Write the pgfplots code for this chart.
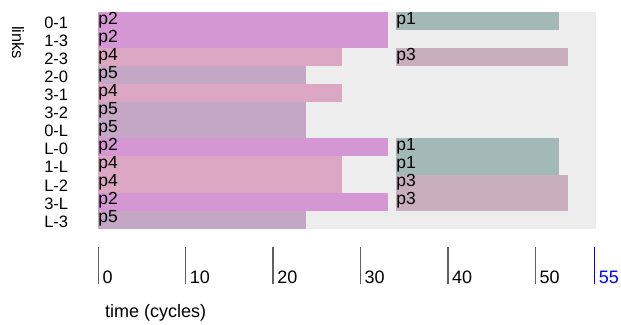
\documentclass[border=0pt]{standalone}
\usepackage{pgfplots}
\pgfplotsset{compat=1.18}
\usepackage{fontspec}
\setmainfont{Liberation Sans}
\definecolor{cpA}{RGB}{163,185,183}
\definecolor{cpB}{RGB}{213,151,211}
\definecolor{cpC}{RGB}{201,175,189}
\definecolor{cpD}{RGB}{219,167,195}
\definecolor{cpE}{RGB}{195,167,197}
\definecolor{bgc}{RGB}{237,237,237}
\definecolor{tickc}{RGB}{95,95,95}
\begin{document}
\fontsize{16.5}{19}\selectfont
\begin{tikzpicture}
\useasboundingbox (0,0) rectangle (621pt,324pt);
\begin{axis}[
  at={(98.3pt,95.3pt)}, anchor=south west,
  scale only axis, width=498.2pt, height=216.7pt,
  xmin=0, xmax=57, ymin=-11.5, ymax=0.5,
  axis line style={draw=none},
  axis background/.style={fill=bgc},
  xtick=\empty,
  ytick={-11,-10,...,0},
  yticklabels={L-3,3-L,L-2,1-L,L-0,0-L,3-2,3-1,2-0,2-3,1-3,0-1},
  major tick length=0pt,
  yticklabel style={anchor=base east, inner sep=0pt, xshift=-30pt, yshift=-7.5pt},
  ylabel={links},
  ylabel style={at={(axis description cs:-0.161,0.859)}, anchor=center, rotate=180},
  clip=false,
]
% p2 bars (0 to 33.17)
\addplot[fill=cpB, draw=none] coordinates {(0,0.5) (33.17,0.5) (33.17,-1.5) (0,-1.5)};
\addplot[fill=cpB, draw=none] coordinates {(0,-6.5) (33.17,-6.5) (33.17,-7.5) (0,-7.5)};
\addplot[fill=cpB, draw=none] coordinates {(0,-9.5) (33.17,-9.5) (33.17,-10.5) (0,-10.5)};
% p4 bars (0 to 27.9)
\addplot[fill=cpD, draw=none] coordinates {(0,-1.5) (27.9,-1.5) (27.9,-2.5) (0,-2.5)};
\addplot[fill=cpD, draw=none] coordinates {(0,-3.5) (27.9,-3.5) (27.9,-4.5) (0,-4.5)};
\addplot[fill=cpD, draw=none] coordinates {(0,-7.5) (27.9,-7.5) (27.9,-9.5) (0,-9.5)};
% p5 bars (0 to 23.78)
\addplot[fill=cpE, draw=none] coordinates {(0,-2.5) (23.78,-2.5) (23.78,-3.5) (0,-3.5)};
\addplot[fill=cpE, draw=none] coordinates {(0,-4.5) (23.78,-4.5) (23.78,-6.5) (0,-6.5)};
\addplot[fill=cpE, draw=none] coordinates {(0,-10.5) (23.78,-10.5) (23.78,-11.5) (0,-11.5)};
% p1 bars (34.08 to 52.74)
\addplot[fill=cpA, draw=none] coordinates {(34.08,0.5) (52.74,0.5) (52.74,-0.5) (34.08,-0.5)};
\addplot[fill=cpA, draw=none] coordinates {(34.08,-6.5) (52.74,-6.5) (52.74,-8.5) (34.08,-8.5)};
% p3 bars (34.08 to 53.77)
\addplot[fill=cpC, draw=none] coordinates {(34.08,-1.5) (53.77,-1.5) (53.77,-2.5) (34.08,-2.5)};
\addplot[fill=cpC, draw=none] coordinates {(34.08,-8.5) (53.77,-8.5) (53.77,-10.5) (34.08,-10.5)};
% labels
\begin{scope}[every node/.style={anchor=base west, inner sep=0pt, font=\fontsize{17.5}{19}\selectfont}]
\node at (axis cs:0,-0.181) {p2};
\node at (axis cs:0,-1.181) {p2};
\node at (axis cs:0,-2.181) {p4};
\node at (axis cs:0,-3.181) {p5};
\node at (axis cs:0,-4.181) {p4};
\node at (axis cs:0,-5.181) {p5};
\node at (axis cs:0,-6.181) {p5};
\node at (axis cs:0,-7.181) {p2};
\node at (axis cs:0,-8.181) {p4};
\node at (axis cs:0,-9.181) {p4};
\node at (axis cs:0,-10.181) {p2};
\node at (axis cs:0,-11.181) {p5};
\node at (axis cs:34.08,-0.181) {p1};
\node at (axis cs:34.08,-2.181) {p3};
\node at (axis cs:34.08,-7.181) {p1};
\node at (axis cs:34.08,-8.181) {p1};
\node at (axis cs:34.08,-9.181) {p3};
\node at (axis cs:34.08,-10.181) {p3};
\end{scope}
\end{axis}
\begin{axis}[
  at={(98.3pt,40pt)}, anchor=south west,
  scale only axis, width=498.2pt, height=36.5pt,
  xmin=0, xmax=57, ymin=0, ymax=1,
  axis line style={draw=none},
  ytick=\empty,
  xtick={0,10,20,30,40,50},
  xtick pos=bottom, tick align=inside,
  major tick length=37pt,
  major tick style={draw=tickc, line width=1.5pt},
  /pgf/number format/assume math mode=true,
  xticklabel style={anchor=base west, inner sep=0pt, xshift=4pt, yshift=1pt, font=\fontsize{18}{20}\selectfont},
  extra x ticks={56.78},
  extra x tick labels={55},
  extra x tick style={major tick style={draw=blue, line width=1.5pt}, xticklabel style={text=blue, xshift=0pt}},
  xlabel={time (cycles)},
  xlabel style={at={(axis description cs:0.0134,-0.93)}, anchor=base west, inner sep=0pt, font=\fontsize{18}{20}\selectfont},
  clip=false,
]
\end{axis}
\end{tikzpicture}
\end{document}
